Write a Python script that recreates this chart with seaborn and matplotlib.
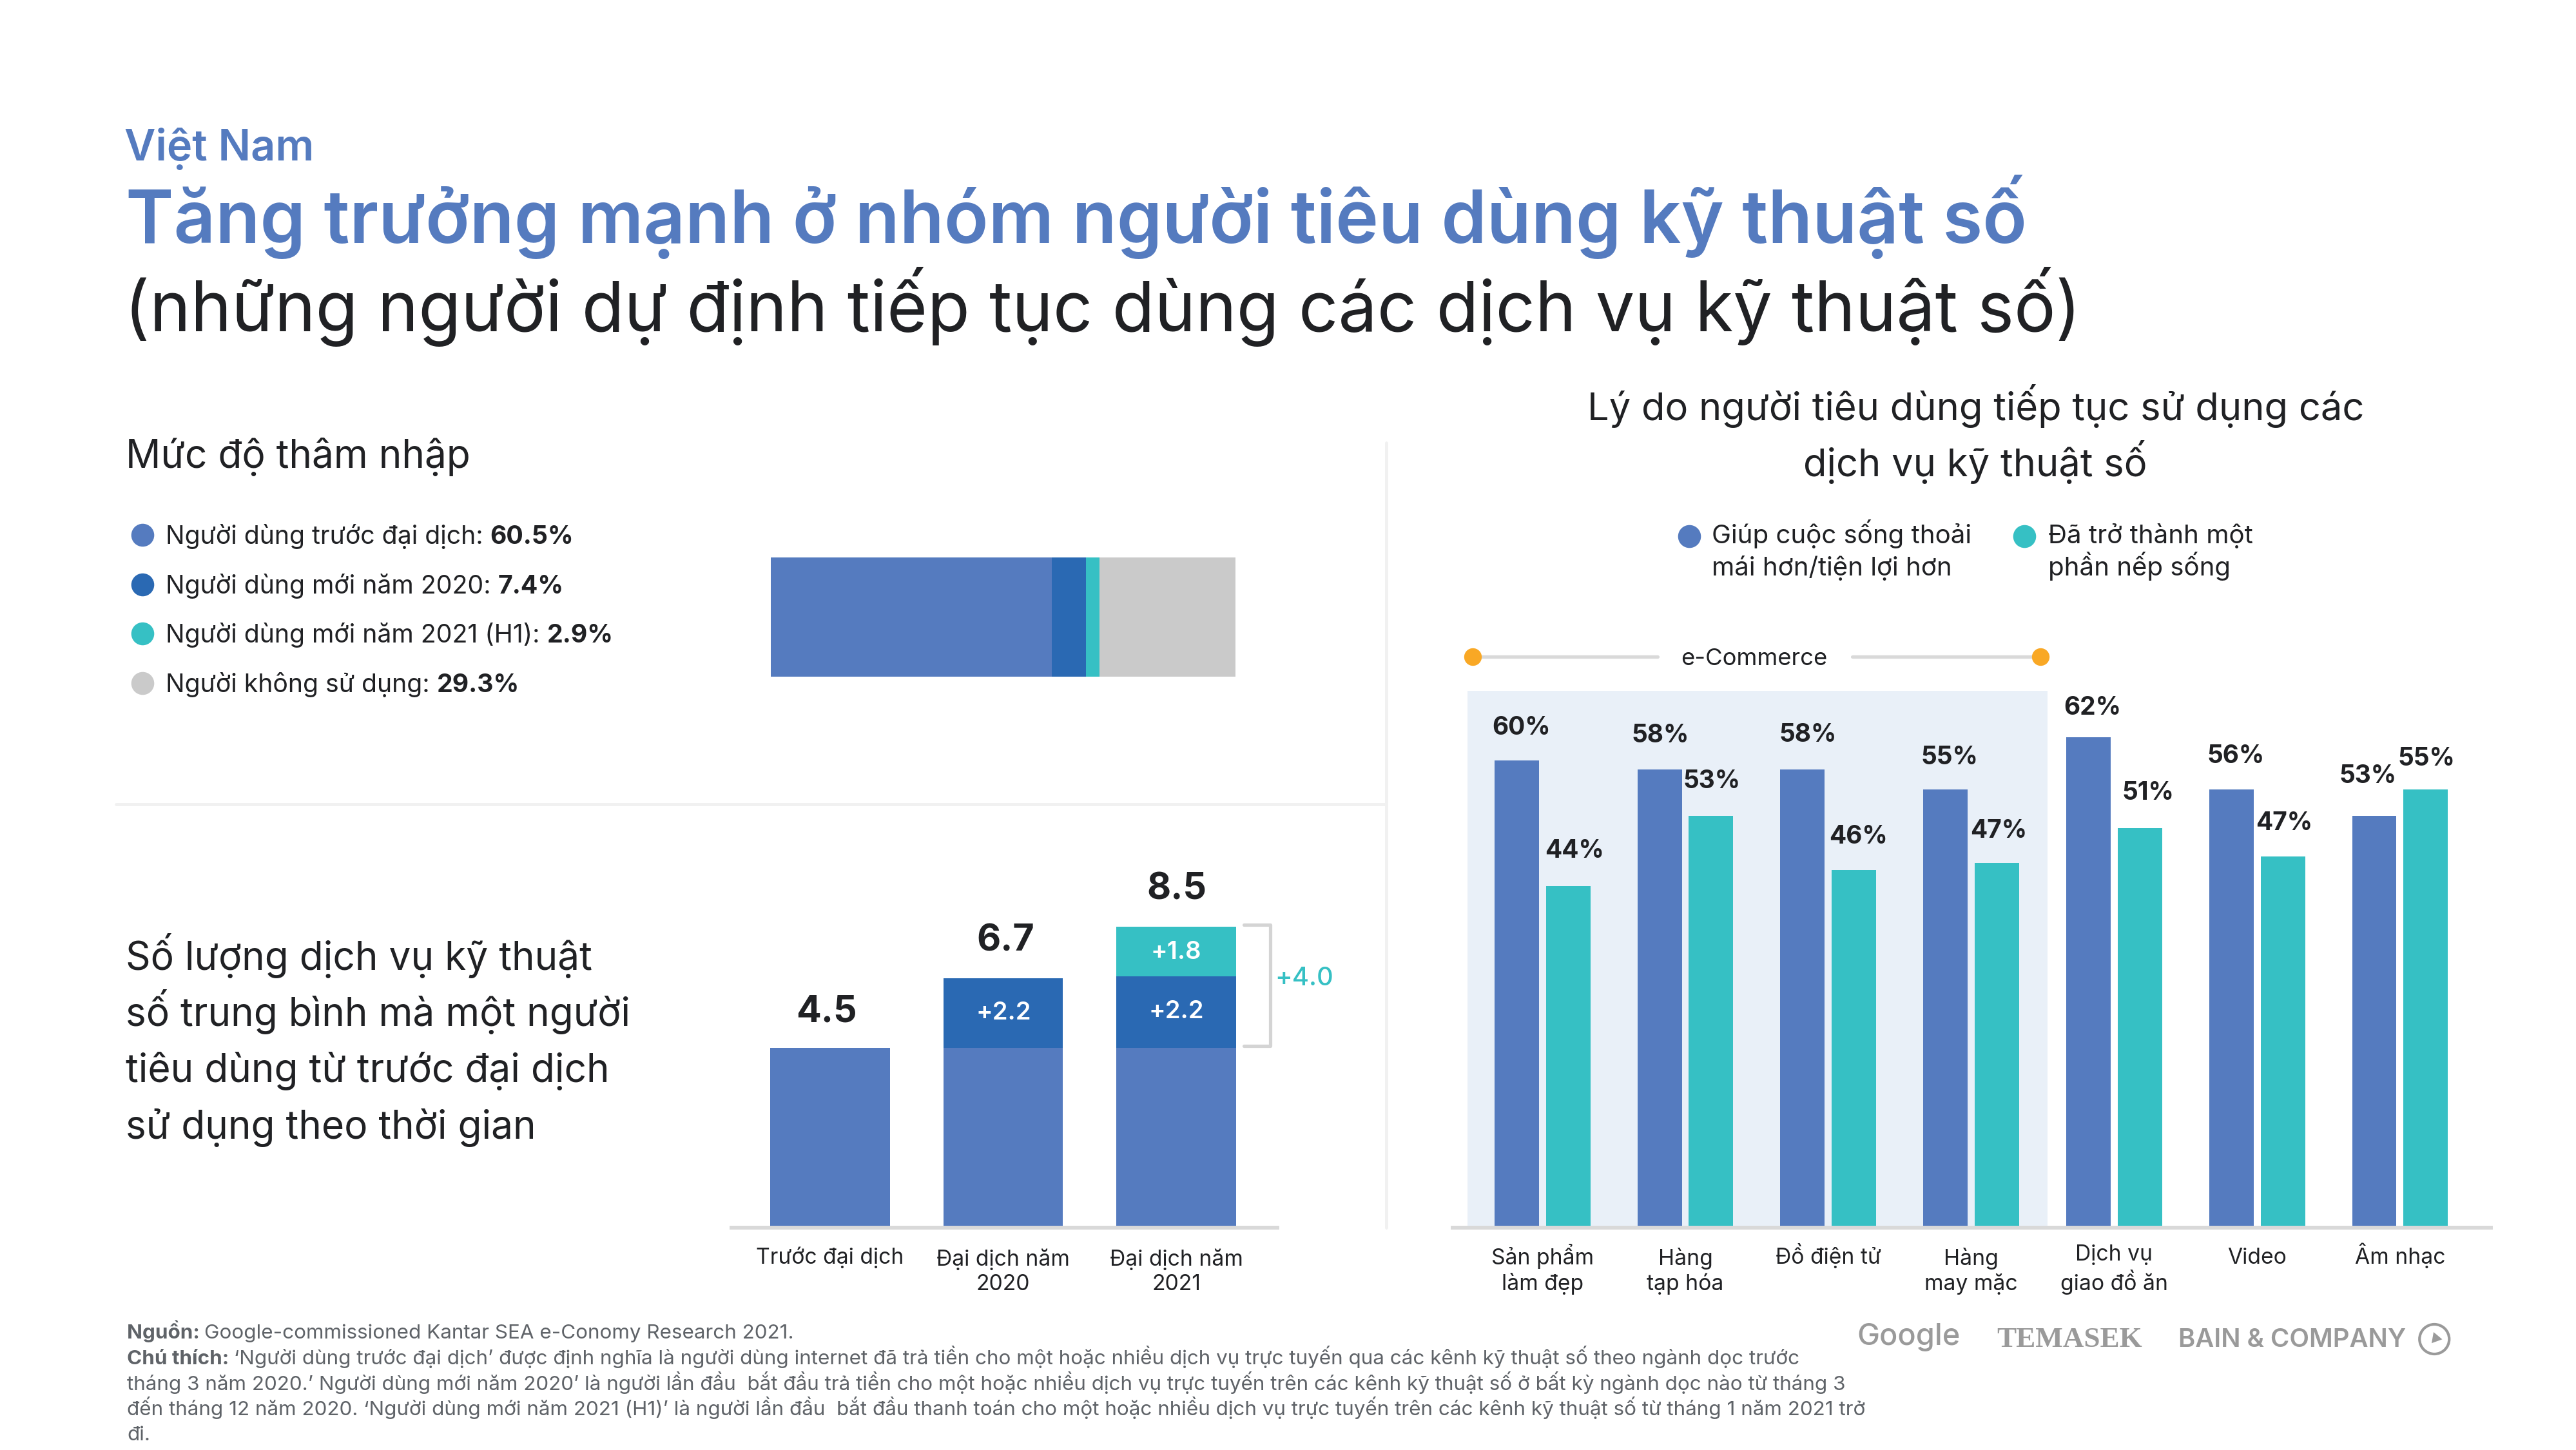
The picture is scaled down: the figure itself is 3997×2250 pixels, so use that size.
"""Vietnam digital consumer growth slide: penetration, services used, reasons to stay."""

import matplotlib.pyplot as plt
import numpy as np
import pandas as pd
import seaborn as sns

WIDTH, HEIGHT = 3997, 2250
DPI = 250
FONT = "Inter"

BLUE = "#557BBF"
DARK_BLUE = "#2A69B3"
TEAL = "#36C0C4"
GREY = "#CACACA"
LINE_GREY = "#D9D9D9"
DIVIDER = "#F1F1F1"
PANEL = "#E9F0F8"
ORANGE = "#F9A825"
INK = "#202124"
FOOT = "#5F6368"
LOGO = "#9A9A9A"

# penetration bar
PEN_LABELS = [
    "Người dùng trước đại dịch: ",
    "Người dùng mới năm 2020: ",
    "Người dùng mới năm 2021 (H1): ",
    "Người không sử dụng: ",
]
PEN_VALUES = [60.5, 7.4, 2.9, 29.3]

# services per consumer. The segments in the original are not to scale with
# their labels, so the heights are read off the picture and labels kept apart.
SVC_CATS = ["Trước đại dịch", "Đại dịch năm\n2020", "Đại dịch năm\n2021"]
SVC_BASE = [4.5, 4.5, 4.5]
SVC_NEW_2020 = [0, 1.74, 1.79]
SVC_NEW_2021 = [0, 0, 1.24]
SVC_TOTALS = ["4.5", "6.7", "8.5"]
SVC_ADDED_2020 = ["+2.2", "+2.2"]
SVC_ADDED_2021 = "+1.8"
SVC_BRACKET = "+4.0"

# reasons: printed percentages, and bar heights as drawn in the original
REASON_CATS = [
    "Sản phẩm\nlàm đẹp", "Hàng\ntạp hóa", "Đồ điện tử", "Hàng\nmay mặc",
    "Dịch vụ\ngiao đồ ăn", "Video", "Âm nhạc",
]
REASON_BETTER = [60, 58, 58, 55, 62, 56, 53]
REASON_HABIT = [44, 53, 46, 47, 51, 47, 55]
DRAWN_BETTER = [59.7, 58.5, 58.5, 56.0, 62.6, 56.0, 52.6]
DRAWN_HABIT = [43.6, 52.6, 45.7, 46.6, 51.0, 47.4, 56.0]
SERIES_BETTER = "Giúp cuộc sống thoải\nmái hơn/tiện lợi hơn"
SERIES_HABIT = "Đã trở thành một\nphần nếp sống"

# label nudges from the top centre of each bar, in pixels
BETTER_NUDGE = [(7, 40), (1, 42), (8, 43), (6, 39), (6, 35), (7, 41), (-10, 51)]
HABIT_NUDGE = [(10, 44), (1, 43), (7, 41), (3, 39), (13, 44), (2, 41), (1, 37)]

FOOTNOTES = [
    ("Nguồn: ", "Google-commissioned Kantar SEA e-Conomy Research 2021."),
    ("Chú thích: ", "‘Người dùng trước đại dịch’ được định nghĩa là người dùng internet đã trả tiền cho một hoặc nhiều dịch vụ trực tuyến qua các kênh kỹ thuật số theo ngành dọc trước"),
    ("", "tháng 3 năm 2020.’ Người dùng mới năm 2020’ là người lần đầu  bắt đầu trả tiền cho một hoặc nhiều dịch vụ trực tuyến trên các kênh kỹ thuật số ở bất kỳ ngành dọc nào từ tháng 3"),
    ("", "đến tháng 12 năm 2020. ‘Người dùng mới năm 2021 (H1)’ là người lần đầu  bắt đầu thanh toán cho một hoặc nhiều dịch vụ trực tuyến trên các kênh kỹ thuật số từ tháng 1 năm 2021 trở"),
    ("", "đi."),
]


def add_axes(fig, x0, y0, x1, y1):
    # box given in picture pixels, y going down
    return fig.add_axes([x0 / WIDTH, 1 - y1 / HEIGHT, (x1 - x0) / WIDTH, (y1 - y0) / HEIGHT])


def mixed_text(fig, canvas, x, y, first, second, size, color, first_bold=False):
    weights = ("bold", "normal") if first_bold else ("normal", "bold")
    renderer = fig.canvas.get_renderer()
    if first:
        canvas.text(x, y, first, fontsize=size, color=color, fontweight=weights[0], va="baseline")
        # trailing spaces do not count in the extent
        probe = canvas.text(0, 0, first.rstrip() + " .", fontsize=size, fontweight=weights[0])
        dot = canvas.text(0, 0, ".", fontsize=size, fontweight=weights[0])
        width = probe.get_window_extent(renderer).width - dot.get_window_extent(renderer).width
        probe.remove()
        dot.remove()
        x = x + width
    canvas.text(x, y, second, fontsize=size, color=color, fontweight=weights[1], va="baseline")


def style_axis(ax):
    ax.set_xlabel("")
    ax.set_ylabel("")
    ax.set_yticks([])
    sns.despine(ax=ax, left=True)
    ax.spines["bottom"].set_color(LINE_GREY)
    ax.spines["bottom"].set_linewidth(1.7)
    ax.spines["bottom"].set_zorder(4)
    ax.tick_params(axis="x", length=0, labelsize=9.7, labelcolor=INK)
    # va=baseline pins the last line, so two-line labels sit one line lower
    for tick in ax.xaxis.get_major_ticks():
        two_lines = "\n" in tick.label1.get_text()
        tick.set_pad(27.9 if two_lines else 16.1)
        tick.label1.set_linespacing(1.22)
        tick.label1.set_verticalalignment("baseline")


def draw_penetration(fig, canvas):
    ax = add_axes(fig, 1196, 865, 1917, 1050)
    tops = np.cumsum(PEN_VALUES)
    colors = [BLUE, DARK_BLUE, TEAL, GREY]
    for top, color in reversed(list(zip(tops, colors))):
        sns.barplot(x=[top], y=["share"], orient="h", color=color, width=1, saturation=1, linewidth=0, ax=ax)
    ax.set_xlim(0, tops[-1])
    ax.axis("off")

    canvas.text(195, 726, "Mức độ thâm nhập", fontsize=17.4, color=INK, va="baseline")
    for label, value, color, y in zip(PEN_LABELS, PEN_VALUES, colors, [844, 921, 997, 1074]):
        canvas.scatter([221], [y - 14], s=105, color=color, linewidths=0)
        mixed_text(fig, canvas, 257, y, label, f"{value}%", 11.3, INK)


def draw_services(fig, canvas):
    ax = add_axes(fig, 1135, 1400, 1982, 1905)
    base = np.array(SVC_BASE)
    mid = base + np.array(SVC_NEW_2020)
    top = mid + np.array(SVC_NEW_2021)
    for heights, color in [(top, TEAL), (mid, DARK_BLUE), (base, BLUE)]:
        sns.barplot(x=SVC_CATS, y=heights, color=color, width=0.69, saturation=1, linewidth=0, ax=ax)
    ax.set_xlim(-0.57, 2.585)
    ax.set_ylim(0, 505 / 62)
    style_axis(ax)

    for x, y, label in zip([1282, 1560, 1826], [1586, 1475, 1396], SVC_TOTALS):
        canvas.text(x, y, label, fontsize=16.5, fontweight="bold", color=INK, ha="center", va="baseline")
    for x, y, label in zip([1557, 1825], [1582, 1580], SVC_ADDED_2020):
        canvas.text(x, y, label, fontsize=11, fontweight="semibold", color="white", ha="center", va="baseline")
    canvas.text(1825, 1488, SVC_ADDED_2021, fontsize=11, fontweight="semibold", color="white", ha="center", va="baseline")

    canvas.plot([1930, 1971, 1971, 1930], [1435, 1435, 1623, 1623], color="#D4D4D4", lw=1.5, solid_joinstyle="round")
    canvas.text(2023, 1529, SVC_BRACKET, fontsize=11.5, fontweight="medium", color=TEAL, ha="center", va="baseline")

    lines = ["Số lượng dịch vụ kỹ thuật", "số trung bình mà một người", "tiêu dùng từ trước đại dịch", "sử dụng theo thời gian"]
    for y, line in zip([1505, 1592, 1679, 1767], lines):
        canvas.text(195, y, line, fontsize=17.4, color=INK, va="baseline")


def draw_reasons(fig, canvas):
    ax = add_axes(fig, 2254, 1072, 3865, 1905)
    df = pd.DataFrame({"cat": REASON_CATS, "better": DRAWN_BETTER, "habit": DRAWN_HABIT})
    long = df.melt(id_vars="cat", var_name="series", value_name="pct")
    sns.barplot(
        data=long, x="cat", y="pct", hue="series", palette={"better": BLUE, "habit": TEAL},
        width=0.72, gap=0.1375, saturation=1, linewidth=0, legend=False, ax=ax, zorder=3,
    )
    ax.axvspan(-0.526, 3.535, color=PANEL, lw=0, zorder=1)
    ax.set_xlim(-0.627, 6.637)
    ax.set_ylim(0, 833 / 12.15)
    style_axis(ax)

    for container, values, nudges in zip(ax.containers, [REASON_BETTER, REASON_HABIT], [BETTER_NUDGE, HABIT_NUDGE]):
        for patch, value, nudge in zip(container, values, nudges):
            ax.annotate(
                f"{value}%", xy=(patch.get_x() + patch.get_width() / 2, patch.get_height()),
                xytext=nudge, textcoords="offset pixels", ha="center", va="baseline",
                fontsize=11.2, fontweight="bold", color=INK, annotation_clip=False,
            )

    canvas.text(3065, 652, "Lý do người tiêu dùng tiếp tục sử dụng các", fontsize=17.2, color=INK, ha="center", va="baseline")
    canvas.text(3065, 739, "dịch vụ kỹ thuật số", fontsize=17.2, color=INK, ha="center", va="baseline")

    for mx, tx, series, color in [(2621, 2656, SERIES_BETTER, BLUE), (3141, 3178, SERIES_HABIT, TEAL)]:
        canvas.scatter([mx], [832], s=105, color=color, linewidths=0)
        for y, line in zip([843, 893], series.split("\n")):
            canvas.text(tx, y, line, fontsize=11.6, color=INK, va="baseline")

    canvas.plot([2285, 2572], [1019, 1019], color=LINE_GREY, lw=1.5)
    canvas.plot([2874, 3166], [1019, 1019], color=LINE_GREY, lw=1.5)
    canvas.scatter([2285, 3166], [1019, 1019], s=62, color=ORANGE, linewidths=0, zorder=3)
    canvas.text(2722, 1032, "e-Commerce", fontsize=10.5, color=INK, ha="center", va="baseline")


def draw_footer(fig, canvas):
    for y, (head, body) in zip([2077, 2117, 2157, 2196, 2235], FOOTNOTES):
        mixed_text(fig, canvas, 197, y, head, body, 9.05, FOOT, first_bold=True)

    canvas.text(2881, 2087, "Google", fontsize=13.5, fontweight="medium", color=LOGO, va="baseline")
    canvas.text(3098, 2090, "TEMASEK", fontsize=13, fontweight="bold", color=LOGO, va="baseline", family="Liberation Serif")
    canvas.text(3380, 2090, "BAIN & COMPANY", fontsize=11.5, fontweight="semibold", color=LOGO, va="baseline")
    canvas.scatter([3777], [2078], s=176, facecolors="none", edgecolors=LOGO, linewidths=1.2)
    canvas.scatter([3779], [2076], s=34, marker=(3, 0, 20), color=LOGO, linewidths=0)


def main():
    sns.set_theme(style="white")
    plt.rcParams["font.family"] = [FONT, "DejaVu Sans"]
    fig = plt.figure(figsize=(WIDTH / DPI + 0.001, HEIGHT / DPI), dpi=DPI, facecolor="white")

    canvas = fig.add_axes([0, 0, 1, 1], zorder=10)
    canvas.set_xlim(0, WIDTH)
    canvas.set_ylim(HEIGHT, 0)
    canvas.axis("off")
    canvas.patch.set_alpha(0)

    canvas.plot([180, 2150], [1248, 1248], color=DIVIDER, lw=1.4)
    canvas.plot([2151, 2151], [687, 1905], color=DIVIDER, lw=1.4)

    canvas.text(193, 249, "Việt Nam", fontsize=19.2, fontweight="semibold", color=BLUE, va="baseline")
    canvas.text(195, 377, "Tăng trưởng mạnh ở nhóm người tiêu dùng kỹ thuật số", fontsize=32.5, fontweight="semibold", color=BLUE, va="baseline")
    canvas.text(193, 514, "(những người dự định tiếp tục dùng các dịch vụ kỹ thuật số)", fontsize=31, color=INK, va="baseline")

    draw_penetration(fig, canvas)
    draw_services(fig, canvas)
    draw_reasons(fig, canvas)
    draw_footer(fig, canvas)

    fig.savefig("out.png", dpi=DPI, facecolor="white")
    plt.close(fig)


if __name__ == "__main__":
    main()
